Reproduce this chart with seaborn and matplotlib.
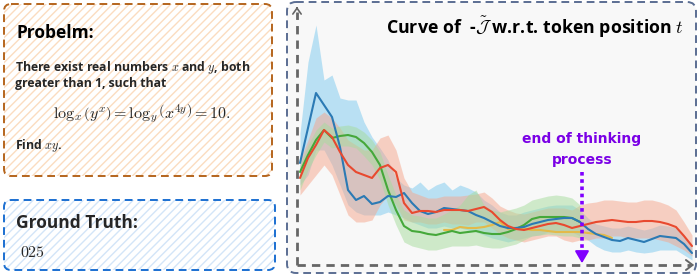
import numpy as np
import pandas as pd
import matplotlib
matplotlib.use("Agg")
import matplotlib.pyplot as plt
import seaborn as sns
from matplotlib.patches import FancyBboxPatch

# ---------------- data ----------------
token_pos = list(range(50))

blue_mean = [1.02, 1.37, 1.72, 1.60, 1.48, 1.18, 0.75, 0.65, 0.69, 0.61, 0.63, 0.69, 0.68, 0.72, 0.62, 0.54, 0.51, 0.53, 0.57, 0.56,
             0.55, 0.54, 0.50, 0.47, 0.43, 0.39, 0.37, 0.37, 0.38, 0.41, 0.43, 0.45, 0.46, 0.47, 0.47, 0.43, 0.36, 0.31, 0.28, 0.25,
             0.24, 0.27, 0.25, 0.23, 0.26, 0.29, 0.28, 0.27, 0.21, 0.12]
blue_upper = [1.32, 2.03, 2.40, 1.85, 1.90, 1.67, 1.65, 1.65, 1.43, 1.28, 1.17, 1.05, 0.87, 0.80, 0.77, 0.83, 0.75, 0.80, 0.83, 0.75,
              0.80, 0.77, 0.73, 0.65, 0.60, 0.53, 0.50, 0.50, 0.53, 0.55, 0.57, 0.59, 0.60, 0.60, 0.60, 0.55, 0.47, 0.41, 0.39, 0.37,
              0.37, 0.39, 0.37, 0.35, 0.37, 0.40, 0.39, 0.37, 0.30, 0.20]
blue_lower = [0.80, 0.90, 1.15, 1.15, 1.00, 0.80, 0.60, 0.53, 0.50, 0.50, 0.50, 0.53, 0.50, 0.47, 0.43, 0.40, 0.37, 0.37, 0.39, 0.37,
              0.37, 0.35, 0.33, 0.30, 0.27, 0.25, 0.23, 0.25, 0.27, 0.29, 0.30, 0.33, 0.33, 0.33, 0.33, 0.29, 0.25, 0.19, 0.15, 0.13,
              0.13, 0.15, 0.13, 0.12, 0.13, 0.15, 0.15, 0.15, 0.10, 0.05]

red_mean = [0.87, 1.07, 1.20, 1.35, 1.28, 1.13, 1.00, 0.93, 0.90, 0.87, 0.97, 1.00, 0.93, 0.62, 0.52, 0.54, 0.54, 0.53, 0.55, 0.55,
            0.55, 0.54, 0.56, 0.58, 0.53, 0.45, 0.39, 0.36, 0.35, 0.37, 0.39, 0.41, 0.42, 0.40, 0.37, 0.39, 0.41, 0.43, 0.44, 0.45,
            0.44, 0.43, 0.43, 0.44, 0.44, 0.43, 0.41, 0.38, 0.29, 0.19]
red_upper = [1.05, 1.25, 1.47, 1.53, 1.47, 1.37, 1.25, 1.20, 1.15, 1.15, 1.27, 1.30, 1.15, 0.87, 0.73, 0.70, 0.67, 0.67, 0.69, 0.69,
             0.69, 0.70, 0.71, 0.73, 0.67, 0.59, 0.55, 0.52, 0.51, 0.53, 0.55, 0.57, 0.57, 0.57, 0.55, 0.60, 0.62, 0.63, 0.65, 0.65,
             0.64, 0.63, 0.63, 0.65, 0.65, 0.63, 0.60, 0.55, 0.43, 0.30]
red_lower = [0.70, 0.80, 0.90, 1.00, 0.90, 0.70, 0.50, 0.43, 0.43, 0.45, 0.60, 0.70, 0.60, 0.45, 0.43, 0.43, 0.41, 0.41, 0.43, 0.41,
             0.41, 0.40, 0.43, 0.43, 0.37, 0.31, 0.27, 0.25, 0.23, 0.25, 0.27, 0.29, 0.29, 0.25, 0.23, 0.25, 0.25, 0.27, 0.27, 0.29,
             0.29, 0.27, 0.27, 0.27, 0.27, 0.25, 0.23, 0.19, 0.15, 0.09]

green_pos = list(range(36))
green_mean = [0.93, 1.10, 1.25, 1.35, 1.27, 1.29, 1.30, 1.28, 1.22, 1.13, 1.00, 0.75, 0.55, 0.39, 0.34, 0.33, 0.31, 0.30, 0.32, 0.34,
              0.32, 0.33, 0.34, 0.32, 0.31, 0.31, 0.33, 0.36, 0.40, 0.46, 0.48, 0.48, 0.48, 0.48, 0.47, 0.43]
green_upper = [1.00, 1.20, 1.35, 1.43, 1.37, 1.39, 1.40, 1.38, 1.33, 1.25, 1.13, 0.90, 0.70, 0.55, 0.50, 0.49, 0.47, 0.47, 0.51, 0.55,
               0.60, 0.70, 0.75, 0.60, 0.55, 0.53, 0.55, 0.57, 0.60, 0.65, 0.67, 0.69, 0.70, 0.69, 0.67, 0.60]
green_lower = [0.75, 0.95, 1.10, 1.23, 1.17, 1.19, 1.19, 1.17, 1.09, 1.00, 0.85, 0.60, 0.40, 0.23, 0.19, 0.17, 0.15, 0.15, 0.17, 0.19,
               0.19, 0.19, 0.20, 0.18, 0.17, 0.17, 0.19, 0.21, 0.25, 0.29, 0.30, 0.31, 0.30, 0.29, 0.29, 0.27]

yellow_pos = list(range(18, 40))
yellow_mean = [0.35, 0.35, 0.38, 0.37, 0.37, 0.38, 0.40, 0.43, 0.36, 0.37, 0.36, 0.35, 0.35, 0.34, 0.33, 0.33, 0.33, 0.33, 0.32,
               0.31, 0.30, 0.27]

end_of_thinking_pos = 35.25

# ---------------- style ----------------
W, H = 698, 277
sns.set_theme(style="white")
plt.rcParams['font.family'] = ['Open Sans', 'DejaVu Sans']
plt.rcParams['mathtext.fontset'] = 'cm'
plt.rcParams['hatch.linewidth'] = 1.0

fig = plt.figure(figsize=(W / 100, H / 100), dpi=100)
fig.patch.set_facecolor('white')

bg = fig.add_axes([0, 0, 1, 1])
bg.set_xlim(0, W)
bg.set_ylim(H, 0)
bg.axis('off')


def box(x0, y0, x1, y1, edge, hatchcol=None, face='white', r=7):
    if hatchcol is not None:
        bg.add_patch(FancyBboxPatch((x0, y0), x1 - x0, y1 - y0,
                                    boxstyle=f"round,pad=0,rounding_size={r}",
                                    facecolor=face, edgecolor=hatchcol, lw=0,
                                    hatch='////', zorder=1))
    else:
        bg.add_patch(FancyBboxPatch((x0, y0), x1 - x0, y1 - y0,
                                    boxstyle=f"round,pad=0,rounding_size={r}",
                                    facecolor=face, edgecolor='none', lw=0, zorder=1))
    bg.add_patch(FancyBboxPatch((x0, y0), x1 - x0, y1 - y0,
                                boxstyle=f"round,pad=0,rounding_size={r}",
                                facecolor='none', edgecolor=edge, lw=1.4,
                                linestyle=(0, (4, 2.5)), zorder=2))


box(4, 4, 272, 176, '#b5651d', hatchcol='#fbdcc0')
box(4, 200, 275, 270, '#1b6fd1', hatchcol='#d3e5f8')
box(287, 2, 696, 273, '#5b6e93', face='#f8f8f8', r=9)

# axis arrows (dashed)
bg.plot([297, 297], [265, 12], color='#666666', lw=2.0, linestyle=(0, (3, 2.2)), zorder=3)
bg.plot([297, 690], [265, 265], color='#666666', lw=2.0, linestyle=(0, (3, 2.2)), zorder=3)
bg.annotate('', xy=(297, 4), xytext=(297, 12),
            arrowprops=dict(arrowstyle='->,head_length=0.35,head_width=0.25', color='#666666', lw=1.2))
bg.annotate('', xy=(697, 265), xytext=(688, 265),
            arrowprops=dict(arrowstyle='->,head_length=0.4,head_width=0.3', color='#666666', lw=1.4))

# texts on the left
bg.text(16, 33, 'Probelm:', fontsize=12.5, fontweight='bold', va='center', ha='left', color='black', zorder=5)
bg.text(15, 68, r'There exist real numbers $x$ and $y$, both', fontsize=8.8, fontweight='bold',
        va='center', ha='left', zorder=5)
bg.text(15, 83, 'greater than 1, such that', fontsize=8.8, fontweight='bold', va='center', ha='left', zorder=5)
bg.text(142, 114, r'$\log_x\left(y^x\right)=\log_y\left(x^{4y}\right)=10.$', fontsize=11.5,
        va='center', ha='center', zorder=5)
bg.text(15, 146, r'Find $xy$.', fontsize=8.8, fontweight='bold', va='center', ha='left', zorder=5)
bg.text(16, 223, 'Ground Truth:', fontsize=12.5, fontweight='bold', va='center', ha='left', zorder=5)
bg.text(20, 253, r'$025$', fontsize=11.5, va='center', ha='left', zorder=5)

# ---------------- plot axes ----------------
ax_l, ax_r, ax_t, ax_b = 297, 695, 8, 265
ax = fig.add_axes([ax_l / W, 1 - ax_b / H, (ax_r - ax_l) / W, (ax_b - ax_t) / H])
ax.set_facecolor('none')
ax.set_xlim(-0.375, 49.375)
ax.set_ylim(0, 2.57)
ax.axis('off')

ax.fill_between(token_pos, blue_lower, blue_upper, color='#86cdef', alpha=0.55, lw=0, zorder=1)
ax.fill_between(token_pos, red_lower, red_upper, color='#f6a68c', alpha=0.5, lw=0, zorder=1)
ax.fill_between(green_pos, green_lower, green_upper, color='#a5dc9c', alpha=0.5, lw=0, zorder=1)

frames = [
    pd.DataFrame({'t': yellow_pos, 'v': yellow_mean, 's': 'yellow'}),
    pd.DataFrame({'t': green_pos, 'v': green_mean, 's': 'green'}),
    pd.DataFrame({'t': token_pos, 'v': blue_mean, 's': 'blue'}),
    pd.DataFrame({'t': token_pos, 'v': red_mean, 's': 'red'}),
]
df = pd.concat(frames, ignore_index=True)
palette = {'yellow': '#e3ba4a', 'green': '#45a83a', 'blue': '#2b7ab4', 'red': '#e8492f'}
sns.lineplot(data=df, x='t', y='v', hue='s', hue_order=['yellow', 'green', 'blue', 'red'],
             palette=palette, estimator=None, sort=True, lw=1.5, legend=False, ax=ax, zorder=3)

# ---------------- right-panel annotations ----------------
top = fig.add_axes([0, 0, 1, 1])
top.set_xlim(0, W)
top.set_ylim(H, 0)
top.axis('off')
top.patch.set_alpha(0)

top.text(386, 27, r'Curve of  -$\tilde{\mathcal{J}}$ w.r.t. token position $t$', fontsize=12.8,
         fontweight='bold', va='center', ha='left', color='black')

arrow_x = 300 + end_of_thinking_pos * 8
top.text(arrow_x, 139, 'end of thinking', fontsize=10, fontweight='bold', color='#7a00e6',
         ha='center', va='center', family=['DejaVu Sans'])
top.text(arrow_x, 160, 'process', fontsize=10, fontweight='bold', color='#7a00e6',
         ha='center', va='center', family=['DejaVu Sans'])
top.plot([arrow_x, arrow_x], [172, 255], color='#8000ff', lw=2.6, linestyle=(0, (1, 1)))
top.annotate('', xy=(arrow_x, 266), xytext=(arrow_x, 255),
             arrowprops=dict(arrowstyle='-|>,head_length=0.6,head_width=0.35', color='#8000ff', lw=1.5))

fig.savefig('out.png', dpi=100, facecolor='white')
